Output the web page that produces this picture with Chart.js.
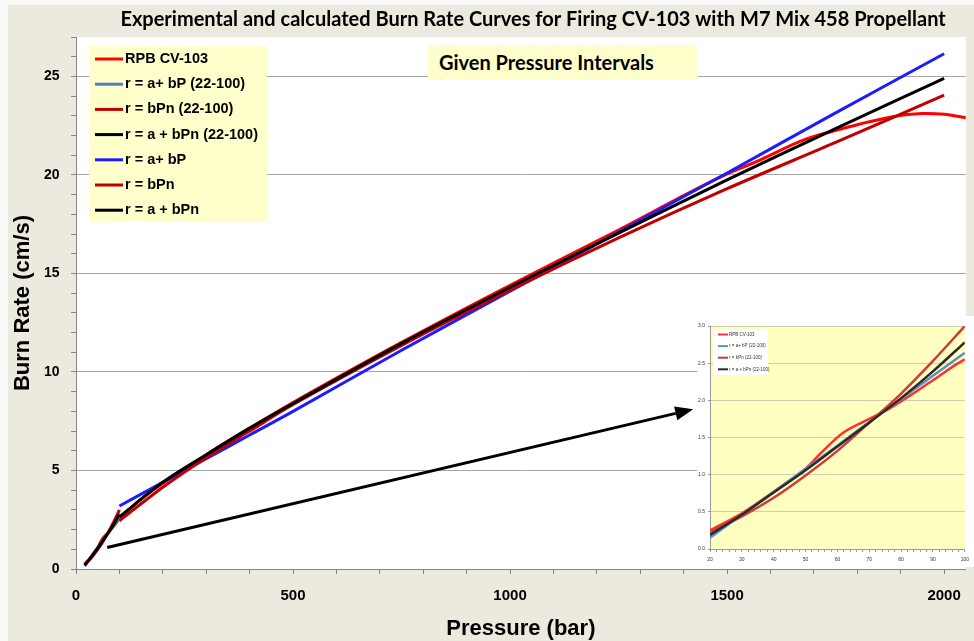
<!DOCTYPE html>
<html>
<head>
<meta charset="utf-8">
<script src="https://cdn.jsdelivr.net/npm/chart.js@4.4.1/dist/chart.umd.min.js"></script>
<style>
  html, body { margin: 0; padding: 0; background: #fafaf8; }
  #wrap { position: absolute; left: 8px; top: 5px; width: 966px; height: 636px; background: #ece9df; overflow: hidden; }
  #mainChart { position: absolute; left: 0; top: 0; }
  #intervals { position: absolute; left: 420px; top: 40px; width: 270px; height: 35px; background: #ffffcc;
    font: bold 20px Lato, sans-serif; line-height: 35px; padding-left: 11px; box-sizing: border-box; color: #000; }
  #insetWrap { position: absolute; left: 689px; top: 311px; width: 277px; height: 251px; background: #fff; }
  #insetChart { position: absolute; left: 0; top: 0; filter: blur(0.5px); }
</style>
</head>
<body>
<div id="wrap">
  <canvas id="mainChart" width="966" height="636"></canvas>
  <div id="intervals">Given Pressure Intervals</div>
  <div id="insetWrap"><canvas id="insetChart" width="277" height="251"></canvas></div>
</div>
<script>
// experimental burn rate, RPB CV-103
const expP = [20, 30, 40, 50, 55, 62, 70, 76, 83, 90, 100, 150, 200, 250, 300, 400, 500, 750, 1000, 1250, 1400, 1500, 1570, 1680, 1800, 1870, 1910, 1950, 2000, 2050];
const expRate = [0.25, 0.48, 0.77, 1.08, 1.3, 1.57, 1.75, 1.88, 2.07, 2.27, 2.55, 3.55, 4.35, 5.05, 5.8, 7.15, 8.45, 11.5, 14.4, 17.2, 18.95, 20.05, 20.7, 21.8, 22.55, 22.9, 23.05, 23.12, 23.08, 22.9];

// fits over the 22-100 bar interval
const shortP = [20, 30, 40, 50, 60, 70, 80, 90, 100];
const shortLinear = [0.15, 0.46, 0.77, 1.08, 1.39, 1.71, 2.02, 2.33, 2.64];
const shortPower = [0.23, 0.44, 0.69, 0.99, 1.32, 1.7, 2.09, 2.53, 3.0];
const shortPowerA = [0.19, 0.46, 0.76, 1.06, 1.38, 1.7, 2.03, 2.39, 2.78];

// fits over the full range
const fitP = [100, 200, 300, 400, 500, 750, 1000, 1250, 1500, 1750, 2000];
const fitLinear = [3.2, 4.4, 5.6, 6.8, 8.0, 11.1, 14.1, 17.1, 20.1, 23.15, 26.15];
const fitPower = [2.45, 4.15, 5.65, 7.0, 8.35, 11.35, 14.15, 16.8, 19.3, 21.65, 24.05];
const fitPowerA = [2.65, 4.4, 5.8, 7.15, 8.4, 11.45, 14.3, 17.05, 19.75, 22.35, 24.9];

const seriesLabels = ['RPB CV-103', 'r = a+ bP (22-100)', 'r = bPn (22-100)', 'r = a + bPn (22-100)', 'r = a+ bP', 'r = bPn', 'r = a + bPn'];

// arrow pointing at the inset: [pressure, rate] at tail and tip
const arrowFrom = [72, 1.09];
const arrowTo = [1422, 8.11];

const Color = {
    Red: '#ff0000',
    Steel: '#4f81bd',
    DarkRed: '#c00000',
    Black: '#000000',
    Blue: '#1c1cff',
};

function toPoints(xs, ys) {
    return xs.map((x, i) => ({ x, y: ys[i] }));
}

function lineSet(label, xs, ys, color, width, order) {
    return {
        label,
        data: toPoints(xs, ys),
        borderColor: color,
        backgroundColor: color,
        borderWidth: width,
        pointRadius: 0,
        tension: 0.3,
        fill: false,
        order,
    };
}

const plotBackground = {
    id: 'plotBackground',
    beforeDraw(chart, args, opts) {
        const { ctx, chartArea } = chart;
        ctx.save();
        ctx.fillStyle = opts.color;
        ctx.fillRect(chartArea.left, chartArea.top, chartArea.width, chartArea.height);
        ctx.restore();
    },
};

// legend drawn as a filled box inside the plot area
const boxLegend = {
    id: 'boxLegend',
    afterDraw(chart, args, o) {
        const { ctx, chartArea } = chart;
        const x0 = chartArea.left + o.x;
        const y0 = chartArea.top + o.y;
        ctx.save();
        ctx.fillStyle = o.background;
        ctx.fillRect(x0, y0, o.width, o.height);
        ctx.font = o.font;
        ctx.textBaseline = 'middle';
        chart.data.datasets.forEach((ds, i) => {
            const y = y0 + o.firstRow + i * o.rowHeight;
            ctx.strokeStyle = ds.borderColor;
            ctx.lineWidth = o.lineWidth;
            ctx.beginPath();
            ctx.moveTo(x0 + o.lineStart, y);
            ctx.lineTo(x0 + o.lineStart + o.lineLength, y);
            ctx.stroke();
            ctx.fillStyle = o.textColor;
            ctx.fillText(ds.label, x0 + o.textStart, y);
        });
        ctx.restore();
    },
};

const arrowPlugin = {
    id: 'arrow',
    afterDatasetsDraw(chart) {
        const { ctx, scales } = chart;
        const x1 = scales.x.getPixelForValue(arrowFrom[0]);
        const y1 = scales.y.getPixelForValue(arrowFrom[1]);
        const x2 = scales.x.getPixelForValue(arrowTo[0]);
        const y2 = scales.y.getPixelForValue(arrowTo[1]);
        const a = Math.atan2(y2 - y1, x2 - x1);
        const len = 18, half = 7;
        ctx.save();
        ctx.strokeStyle = '#000';
        ctx.fillStyle = '#000';
        ctx.lineWidth = 3;
        ctx.beginPath();
        ctx.moveTo(x1, y1);
        ctx.lineTo(x2 - len * Math.cos(a), y2 - len * Math.sin(a));
        ctx.stroke();
        ctx.beginPath();
        ctx.moveTo(x2, y2);
        ctx.lineTo(x2 - len * Math.cos(a) + half * Math.sin(a), y2 - len * Math.sin(a) - half * Math.cos(a));
        ctx.lineTo(x2 - len * Math.cos(a) - half * Math.sin(a), y2 - len * Math.sin(a) + half * Math.cos(a));
        ctx.closePath();
        ctx.fill();
        ctx.restore();
    },
};

const boldFont = (size) => ({ family: 'Liberation Sans', weight: 'bold', size });

function renderMainChart() {
    const ctx = document.getElementById('mainChart').getContext('2d');
    return new Chart(ctx, {
        type: 'line',
        data: {
            datasets: [
                lineSet(seriesLabels[0], expP, expRate, Color.Red, 3, 7),
                lineSet(seriesLabels[1], shortP, shortLinear, Color.Steel, 3, 6),
                lineSet(seriesLabels[2], shortP, shortPower, Color.DarkRed, 3, 5),
                lineSet(seriesLabels[3], shortP, shortPowerA, Color.Black, 3, 4),
                lineSet(seriesLabels[4], fitP, fitLinear, Color.Blue, 3, 3),
                lineSet(seriesLabels[5], fitP, fitPower, Color.DarkRed, 3, 2),
                lineSet(seriesLabels[6], fitP, fitPowerA, Color.Black, 3, 1),
            ],
        },
        options: {
            responsive: false,
            animation: false,
            layout: { padding: { left: 0, right: 2, top: 0, bottom: 0 } },
            plugins: {
                legend: { display: false },
                tooltip: { enabled: false },
                title: {
                    display: true,
                    fullSize: false,
                    // leading spaces nudge the centred title a little to the right, as in the original
                    text: '     Experimental and calculated Burn Rate Curves for Firing CV-103 with M7 Mix 458 Propellant',
                    color: '#000',
                    font: { family: 'Lato', weight: 'bold', size: 20, lineHeight: 1.2 },
                    padding: { top: 3, bottom: 5 },
                },
                plotBackground: { color: '#ffffff' },
                boxLegend: {
                    x: 13, y: 9, width: 178, height: 176,
                    background: '#ffffcc',
                    firstRow: 13, rowHeight: 25.2,
                    lineStart: 6, lineLength: 28, lineWidth: 3, textStart: 36,
                    font: 'bold 14.5px "Liberation Sans"', textColor: '#000',
                },
            },
            scales: {
                x: {
                    type: 'linear',
                    min: 0,
                    max: 2050,
                    border: { color: '#868686', width: 1 },
                    grid: { drawOnChartArea: false, drawTicks: true, tickLength: 5, color: '#868686' },
                    ticks: {
                        stepSize: 100,
                        includeBounds: false,
                        autoSkip: false,
                        maxRotation: 0,
                        padding: 13,
                        color: '#000',
                        font: boldFont(15),
                        callback: (v) => (v % 500 === 0 ? v : ''),
                    },
                    title: {
                        display: true,
                        text: 'Pressure (bar)',
                        color: '#000',
                        font: { family: 'Liberation Sans', weight: 'bold', size: 22, lineHeight: 1.1 },
                        padding: { top: 0, bottom: 0 },
                    },
                    afterFit: (s) => { s.height = 72; },
                },
                y: {
                    min: 0,
                    max: 27,
                    border: { color: '#868686', width: 1 },
                    grid: {
                        color: (c) => (c.tick && c.tick.value % 5 === 0 && c.tick.value !== 0 ? '#a6a6a6' : 'rgba(0,0,0,0)'),
                        tickColor: '#868686',
                        tickLength: 5,
                    },
                    ticks: {
                        stepSize: 1,
                        autoSkip: false,
                        padding: 11.5,
                        color: '#000',
                        font: boldFont(14),
                        callback: (v) => (v % 5 === 0 ? v : ''),
                    },
                    title: {
                        display: true,
                        text: 'Burn Rate (cm/s)',
                        color: '#000',
                        font: boldFont(22),
                        padding: { top: 2, bottom: 0 },
                    },
                    afterFit: (s) => { s.width = 68; },
                },
            },
        },
        plugins: [plotBackground, boxLegend, arrowPlugin],
    });
}

function renderInsetChart() {
    const ctx = document.getElementById('insetChart').getContext('2d');
    const tiny = { family: 'Liberation Sans', size: 5 };
    return new Chart(ctx, {
        type: 'line',
        data: {
            datasets: [
                lineSet(seriesLabels[0], expP, expRate, '#ff3030', 2.5, 4),
                lineSet(seriesLabels[1], shortP, shortLinear, '#5b8fc8', 2.5, 3),
                lineSet(seriesLabels[2], shortP, shortPower, '#d03a3a', 2.5, 2),
                lineSet(seriesLabels[3], shortP, shortPowerA, '#2a2a2a', 2.5, 1),
            ],
        },
        options: {
            responsive: false,
            animation: false,
            layout: { padding: { left: 0, right: 7, top: 10, bottom: 0 } },
            plugins: {
                legend: { display: false },
                tooltip: { enabled: false },
                plotBackground: { color: '#ffffc0' },
                boxLegend: {
                    x: 3, y: 4, width: 55, height: 45,
                    background: '#ffffff',
                    firstRow: 4.5, rowHeight: 11.6,
                    lineStart: 5, lineLength: 10, lineWidth: 2, textStart: 16,
                    font: '4.5px "Liberation Sans"', textColor: '#333',
                },
            },
            scales: {
                x: {
                    type: 'linear',
                    min: 20,
                    max: 100,
                    border: { color: '#999', width: 1 },
                    grid: { drawOnChartArea: false, tickLength: 3, color: '#999' },
                    ticks: {
                        stepSize: 2,
                        autoSkip: false,
                        maxRotation: 0,
                        padding: 5,
                        color: '#333',
                        font: tiny,
                        callback: (v) => (v % 10 === 0 ? v : ''),
                    },
                    afterFit: (s) => { s.height = 18; },
                },
                y: {
                    min: 0,
                    max: 3,
                    border: { color: '#999', width: 1 },
                    grid: {
                        color: (c) => (c.tick && c.tick.value !== 0 ? '#cfcfb0' : 'rgba(0,0,0,0)'),
                        tickColor: '#999',
                        tickLength: 2,
                    },
                    ticks: {
                        stepSize: 0.5,
                        padding: 3,
                        color: '#333',
                        font: tiny,
                        callback: (v) => v.toFixed(1),
                    },
                    afterFit: (s) => { s.width = 13; },
                },
            },
        },
        plugins: [plotBackground, boxLegend],
    });
}

renderMainChart();
renderInsetChart();
</script>
</body>
</html>
